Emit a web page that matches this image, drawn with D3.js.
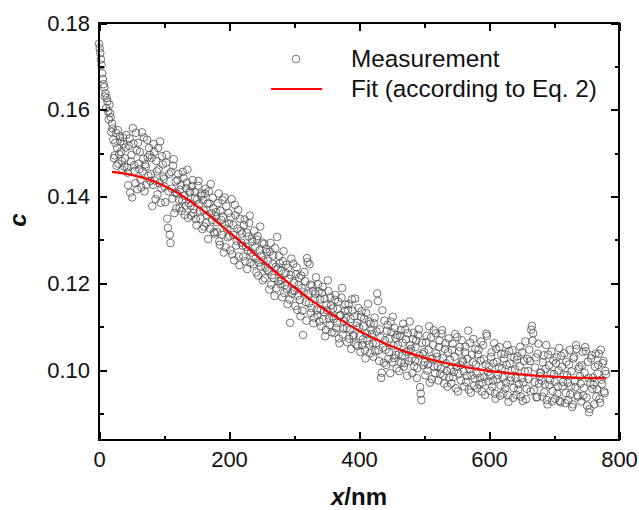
<!DOCTYPE html>
<meta charset="utf-8">
<style>
    body { margin: 0; background: #fff; }
    svg text { font-family: "Liberation Sans", Arial, sans-serif; fill: #111; }
    .axis path { display: none; }
    .axis line { stroke: #000; stroke-width: 2; shape-rendering: crispEdges; }
    .axis text { font-size: 22px; }
</style>

<div class="chart"></div>

<script src="https://cdn.jsdelivr.net/npm/d3@7"></script>

<script>
    var measEvenC = [
        0.1752, 0.1731, 0.1703, 0.1671, 0.1652, 0.1638, 0.1627, 0.1596, 0.1612, 0.1583,
        0.1568, 0.1531, 0.1495, 0.1547, 0.1512, 0.1476, 0.1539, 0.1503, 0.1462, 0.1521,
        0.1488, 0.1542, 0.1455, 0.1517, 0.1409, 0.1496, 0.1558, 0.1472, 0.1431, 0.1506,
        0.1524, 0.1463, 0.1439, 0.1548, 0.1487, 0.1412, 0.1469, 0.1531, 0.1448, 0.1496,
        0.1452, 0.1378, 0.1521, 0.1437, 0.1482, 0.1405, 0.1463, 0.1527, 0.1419, 0.1474,
        0.1441, 0.1387, 0.1496, 0.1328, 0.1452, 0.1293, 0.1418, 0.1471, 0.1362, 0.1435,
        0.1407, 0.1452, 0.1374, 0.1426, 0.1391, 0.1443, 0.1358, 0.1419, 0.1462, 0.1385,
        0.1412, 0.1356, 0.1438, 0.1371, 0.1397, 0.1334, 0.1425, 0.1383, 0.1349, 0.1407,
        0.1392, 0.1331, 0.1418, 0.1357, 0.1302, 0.1384, 0.1429, 0.1346, 0.1373, 0.1315,
        0.1364, 0.1318, 0.1407, 0.1289, 0.1346, 0.1392, 0.1271, 0.1335, 0.1378, 0.1306,
        0.1338, 0.1276, 0.1394, 0.1312, 0.1253, 0.1357, 0.1298, 0.1369, 0.1242, 0.1321,
        0.1315, 0.1262, 0.1347, 0.1284, 0.1233, 0.1308, 0.1356, 0.1271, 0.1296, 0.1244,
        0.1283, 0.1225, 0.1309, 0.1248, 0.1331, 0.1264, 0.1207, 0.1291, 0.1236, 0.1272,
        0.1252, 0.1186, 0.1293, 0.1219, 0.1264, 0.1171, 0.1238, 0.1307, 0.1205, 0.1246,
        0.1229, 0.1168, 0.1274, 0.1196, 0.1243, 0.1152, 0.1211, 0.1109, 0.1257, 0.1183,
        0.1201, 0.1148, 0.1237, 0.1172, 0.1213, 0.1124, 0.1189, 0.1081, 0.1226, 0.1157,
        0.1258, 0.1176, 0.1244, 0.1132, 0.1195, 0.1108, 0.1163, 0.1214, 0.1127, 0.1181,
        0.1163, 0.1101, 0.1192, 0.1134, 0.1078, 0.1151, 0.1207, 0.1119, 0.1168, 0.1087,
        0.1142, 0.1086, 0.1173, 0.1109, 0.1158, 0.1062, 0.1127, 0.1189, 0.1095, 0.1136,
        0.1121, 0.1064, 0.1152, 0.1093, 0.1049, 0.1137, 0.1078, 0.1165, 0.1102, 0.1056,
        0.1098, 0.1042, 0.1136, 0.1071, 0.1119, 0.1027, 0.1084, 0.1153, 0.1059, 0.1107,
        0.1083, 0.1031, 0.1121, 0.1062, 0.1177, 0.1046, 0.1094, 0.0982, 0.1138, 0.1017,
        0.1069, 0.1012, 0.1104, 0.1041, 0.0993, 0.1087, 0.1123, 0.1028, 0.1075, 0.1004,
        0.1058, 0.0998, 0.1092, 0.1034, 0.1107, 0.1016, 0.1071, 0.0987, 0.1045, 0.1112,
        0.1049, 0.0993, 0.1086, 0.1022, 0.1068, 0.1005, 0.1094, 0.0961, 0.0931, 0.1037,
        0.1042, 0.0988, 0.1079, 0.1013, 0.1101, 0.1026, 0.0979, 0.1058, 0.1007, 0.1085,
        0.1031, 0.0976, 0.1068, 0.1004, 0.1092, 0.0987, 0.1049, 0.1016, 0.0962, 0.1073,
        0.1024, 0.0969, 0.1061, 0.0996, 0.1083, 0.1008, 0.0951, 0.1043, 0.1012, 0.1069,
        0.1019, 0.0962, 0.1054, 0.0987, 0.1091, 0.1003, 0.0948, 0.1036, 0.1072, 0.0981,
        0.1013, 0.0958, 0.1047, 0.0982, 0.1066, 0.0971, 0.1025, 0.0943, 0.1084, 0.0996,
        0.1008, 0.0952, 0.1041, 0.0976, 0.1062, 0.0934, 0.1019, 0.0989, 0.1053, 0.0965,
        0.1004, 0.0946, 0.1037, 0.0971, 0.1058, 0.0927, 0.1015, 0.0983, 0.1046, 0.0959,
        0.1002, 0.0943, 0.1032, 0.0968, 0.1054, 0.0981, 0.0929, 0.1021, 0.1066, 0.0957,
        0.0998, 0.1047, 0.0951, 0.1102, 0.1085, 0.0973, 0.1029, 0.0938, 0.1061, 0.0986,
        0.0994, 0.0939, 0.1034, 0.0967, 0.1058, 0.0921, 0.1011, 0.0978, 0.1043, 0.0952,
        0.0991, 0.0934, 0.1029, 0.0962, 0.1051, 0.0926, 0.1008, 0.0973, 0.1039, 0.0947,
        0.0989, 0.0931, 0.1046, 0.0963, 0.0915, 0.1027, 0.0974, 0.1058, 0.0942, 0.1003,
        0.0986, 0.0928, 0.1042, 0.0959, 0.1053, 0.0937, 0.1019, 0.0903, 0.0971, 0.1034,
        0.0983, 0.0921, 0.1038, 0.0956, 0.1012, 0.0934, 0.1047, 0.0968, 0.1021, 0.0947,
        0.0991
    ];
    var measOddC = [
        0.1742, 0.1716, 0.1684, 0.1659, 0.1631, 0.1604, 0.1619, 0.1578, 0.1592, 0.1549,
        0.1557, 0.1489, 0.1524, 0.1471, 0.1553, 0.1498, 0.1527, 0.1482, 0.1536, 0.1469,
        0.1513, 0.1467, 0.1426, 0.1534, 0.1481, 0.1398, 0.1522, 0.1459, 0.1547, 0.1417,
        0.1476, 0.1503, 0.1421, 0.1458, 0.1536, 0.1474, 0.1427, 0.1491, 0.1512, 0.1436,
        0.1489, 0.1427, 0.1503, 0.1394, 0.1458, 0.1512, 0.1431, 0.1386, 0.1493, 0.1446,
        0.1423, 0.1478, 0.1349, 0.1412, 0.1312, 0.1457, 0.1395, 0.1486, 0.1409, 0.1373,
        0.1438, 0.1393, 0.1416, 0.1367, 0.1457, 0.1402, 0.1379, 0.1432, 0.1351, 0.1409,
        0.1379, 0.1424, 0.1362, 0.1411, 0.1348, 0.1393, 0.1436, 0.1367, 0.1402, 0.1325,
        0.1368, 0.1407, 0.1339, 0.1384, 0.1412, 0.1326, 0.1362, 0.1397, 0.1318, 0.1354,
        0.1341, 0.1385, 0.1297, 0.1367, 0.1312, 0.1354, 0.1398, 0.1283, 0.1326, 0.1362,
        0.1309, 0.1352, 0.1267, 0.1334, 0.1381, 0.1287, 0.1326, 0.1262, 0.1349, 0.1294,
        0.1287, 0.1334, 0.1251, 0.1317, 0.1276, 0.1339, 0.1248, 0.1302, 0.1263, 0.1321,
        0.1257, 0.1301, 0.1218, 0.1276, 0.1239, 0.1294, 0.1253, 0.1212, 0.1279, 0.1231,
        0.1228, 0.1273, 0.1197, 0.1245, 0.1212, 0.1281, 0.1189, 0.1234, 0.1263, 0.1198,
        0.1207, 0.1251, 0.1178, 0.1224, 0.1187, 0.1236, 0.1163, 0.1219, 0.1176, 0.1245,
        0.1183, 0.1221, 0.1139, 0.1196, 0.1162, 0.1218, 0.1137, 0.1179, 0.1205, 0.1114,
        0.1249, 0.1154, 0.1197, 0.1143, 0.1182, 0.1121, 0.1176, 0.1139, 0.1198, 0.1112,
        0.1139, 0.1178, 0.1117, 0.1164, 0.1093, 0.1138, 0.1182, 0.1104, 0.1149, 0.1124,
        0.1118, 0.1162, 0.1097, 0.1141, 0.1073, 0.1126, 0.1167, 0.1082, 0.1113, 0.1151,
        0.1097, 0.1139, 0.1072, 0.1118, 0.1163, 0.1081, 0.1124, 0.1059, 0.1109, 0.1143,
        0.1078, 0.1123, 0.1058, 0.1101, 0.1046, 0.1132, 0.1068, 0.1112, 0.1039, 0.1093,
        0.1062, 0.1108, 0.1043, 0.1089, 0.1159, 0.1021, 0.1076, 0.0994, 0.1052, 0.1114,
        0.1047, 0.1091, 0.1026, 0.1073, 0.1112, 0.1018, 0.1056, 0.1097, 0.1035, 0.1081,
        0.1036, 0.1079, 0.1017, 0.1063, 0.1008, 0.1094, 0.1042, 0.1085, 0.1021, 0.1057,
        0.1027, 0.1072, 0.1009, 0.1053, 0.0982, 0.1081, 0.1034, 0.0946, 0.1063, 0.1011,
        0.1018, 0.1064, 0.0999, 0.1047, 0.0971, 0.1076, 0.1026, 0.1092, 0.0993, 0.1039,
        0.1009, 0.1053, 0.0991, 0.1084, 0.1028, 0.0969, 0.1062, 0.0998, 0.1041, 0.0983,
        0.1003, 0.1047, 0.0984, 0.1031, 0.0958, 0.1076, 0.0992, 0.1053, 0.0976, 0.1022,
        0.0997, 0.1041, 0.0973, 0.1026, 0.0955, 0.1063, 0.0988, 0.1018, 0.0964, 0.1049,
        0.0992, 0.1036, 0.0967, 0.1022, 0.0951, 0.1058, 0.0984, 0.1013, 0.1079, 0.0974,
        0.0987, 0.1031, 0.0962, 0.1016, 0.0946, 0.1049, 0.0979, 0.1007, 0.0941, 0.1037,
        0.0983, 0.1027, 0.0958, 0.1012, 0.0942, 0.1044, 0.0976, 0.0999, 0.0936, 0.1029,
        0.0981, 0.1024, 0.0955, 0.1009, 0.0939, 0.1041, 0.0972, 0.0997, 0.0933, 0.1026,
        0.0979, 0.1021, 0.1093, 0.1068, 0.0954, 0.1006, 0.0937, 0.1038, 0.0969, 0.0994,
        0.0976, 0.1018, 0.0949, 0.1003, 0.0931, 0.1036, 0.0966, 0.0992, 0.0928, 0.1022,
        0.0973, 0.1016, 0.0946, 0.0999, 0.0929, 0.1033, 0.0963, 0.0989, 0.0924, 0.1019,
        0.0971, 0.1013, 0.0944, 0.0997, 0.0921, 0.1031, 0.0961, 0.1049, 0.0939, 0.1008,
        0.0969, 0.1011, 0.0941, 0.0994, 0.1044, 0.0918, 0.0982, 0.0911, 0.1027, 0.0957,
        0.0966, 0.1008, 0.0939, 0.0992, 0.1038, 0.0925, 0.0978, 0.1016, 0.0951, 0.0998
    ];

    // fit curve (Eq. 2)
    var fitX = [20, 50, 75, 100, 125, 150, 175, 200, 225, 250, 275, 300, 325, 350, 375, 400,
                425, 450, 475, 500, 525, 550, 575, 600, 625, 650, 675, 700, 725, 750, 780];
    var fitC = [0.1457, 0.1450, 0.1440, 0.1425, 0.1405, 0.1379, 0.1350, 0.1318, 0.1287, 0.1254,
                0.1222, 0.1191, 0.1163, 0.1137, 0.1113, 0.1091, 0.1072, 0.1055, 0.1041, 0.1029,
                0.1019, 0.1011, 0.1004, 0.0998, 0.0994, 0.0990, 0.0987, 0.0985, 0.0983, 0.0982, 0.0981];

    var xMajor = [0, 200, 400, 600, 800];
    var xMinor = [100, 300, 500, 700];
    var yMajor = [0.10, 0.12, 0.14, 0.16, 0.18];
    var yMinor = [0.09, 0.11, 0.13, 0.15, 0.17];

    var legendLabels = ["Measurement", "Fit (according to Eq. 2)"];

    var W = 639, H = 510;
    var margin = {top: 23, right: 20, bottom: 70, left: 99};
    var width = W - margin.left - margin.right,
        height = H - margin.top - margin.bottom;

    var svg = d3.select(".chart").append("svg")
        .attr("width", W)
        .attr("height", H);

    var g = svg.append("g")
        .attr("transform", "translate(" + margin.left + "," + margin.top + ")");

    var x = d3.scaleLinear().domain([0, 800]).range([0, width]);
    var y = d3.scaleLinear().domain([0.0839, 0.18]).range([height, 0]);

    var meas = [];
    measEvenC.forEach(function (c, i) { meas.push({x: 2 * i, c: c}); });
    measOddC.forEach(function (c, i) { meas.push({x: 2 * i + 1, c: c}); });
    meas.sort(function (a, b) { return a.x - b.x; });

    var ptR = 3.8, ptStroke = "#505050";

    g.selectAll("circle.pt")
        .data(meas)
        .enter().append("circle")
        .attr("class", "pt")
        .attr("cx", function (d) { return x(d.x); })
        .attr("cy", function (d) { return y(d.c); })
        .attr("r", ptR)
        .attr("fill", "none")
        .attr("stroke", ptStroke)
        .attr("stroke-width", 0.8);

    var line = d3.line()
        .x(function (d, i) { return x(fitX[i]); })
        .y(function (d) { return y(d); })
        .curve(d3.curveMonotoneX);

    g.append("path")
        .datum(fitC)
        .attr("d", line)
        .attr("fill", "none")
        .attr("stroke", "#ff0000")
        .attr("stroke-width", 2.3);

    // axes, ticks pointing inwards
    function addAxis(axis, tr, cls) {
        return g.append("g").attr("class", "axis " + cls)
            .attr("transform", tr).call(axis);
    }

    addAxis(d3.axisBottom(x).tickValues(xMajor).tickSize(-8).tickPadding(11)
        .tickFormat(d3.format("d")), "translate(0," + height + ")", "x");
    addAxis(d3.axisBottom(x).tickValues(xMinor).tickSize(-4.5).tickFormat(""),
        "translate(0," + height + ")", "x-minor");
    addAxis(d3.axisTop(x).tickValues(xMajor).tickSize(-8).tickFormat(""), "translate(0,0)", "x-top");
    addAxis(d3.axisTop(x).tickValues(xMinor).tickSize(-4.5).tickFormat(""), "translate(0,0)", "x-top-minor");

    addAxis(d3.axisLeft(y).tickValues(yMajor).tickSize(-8).tickPadding(9)
        .tickFormat(d3.format(".2f")), "translate(0,0)", "y");
    addAxis(d3.axisLeft(y).tickValues(yMinor).tickSize(-4.5).tickFormat(""), "translate(0,0)", "y-minor");
    addAxis(d3.axisRight(y).tickValues(yMajor).tickSize(-8).tickFormat(""),
        "translate(" + width + ",0)", "y-right");
    addAxis(d3.axisRight(y).tickValues(yMinor).tickSize(-4.5).tickFormat(""),
        "translate(" + width + ",0)", "y-right-minor");

    g.append("rect")
        .attr("width", width)
        .attr("height", height)
        .attr("fill", "none")
        .attr("stroke", "#000")
        .attr("stroke-width", 2);

    // axis titles
    var xt = svg.append("text")
        .attr("x", margin.left + width / 2)
        .attr("y", 505)
        .attr("text-anchor", "middle")
        .style("font-size", "24px")
        .style("font-weight", "bold");
    xt.append("tspan").style("font-style", "italic").text("x");
    xt.append("tspan").text("/nm");

    svg.append("text")
        .attr("transform", "translate(26,220) rotate(-90)")
        .attr("text-anchor", "middle")
        .style("font-size", "24px")
        .style("font-weight", "bold")
        .style("font-style", "italic")
        .text("c");

    // legend
    var leg = svg.append("g");
    leg.append("circle")
        .attr("cx", 296).attr("cy", 59).attr("r", ptR)
        .attr("fill", "none").attr("stroke", ptStroke).attr("stroke-width", 0.8);
    leg.append("line")
        .attr("x1", 271).attr("x2", 322).attr("y1", 89).attr("y2", 89)
        .attr("stroke", "#ff0000").attr("stroke-width", 2);
    leg.selectAll("text.lg")
        .data(legendLabels)
        .enter().append("text")
        .attr("class", "lg")
        .attr("x", 351)
        .attr("y", function (d, i) { return 67 + i * 30; })
        .style("font-size", "24.3px")
        .text(function (d) { return d; });
</script>
